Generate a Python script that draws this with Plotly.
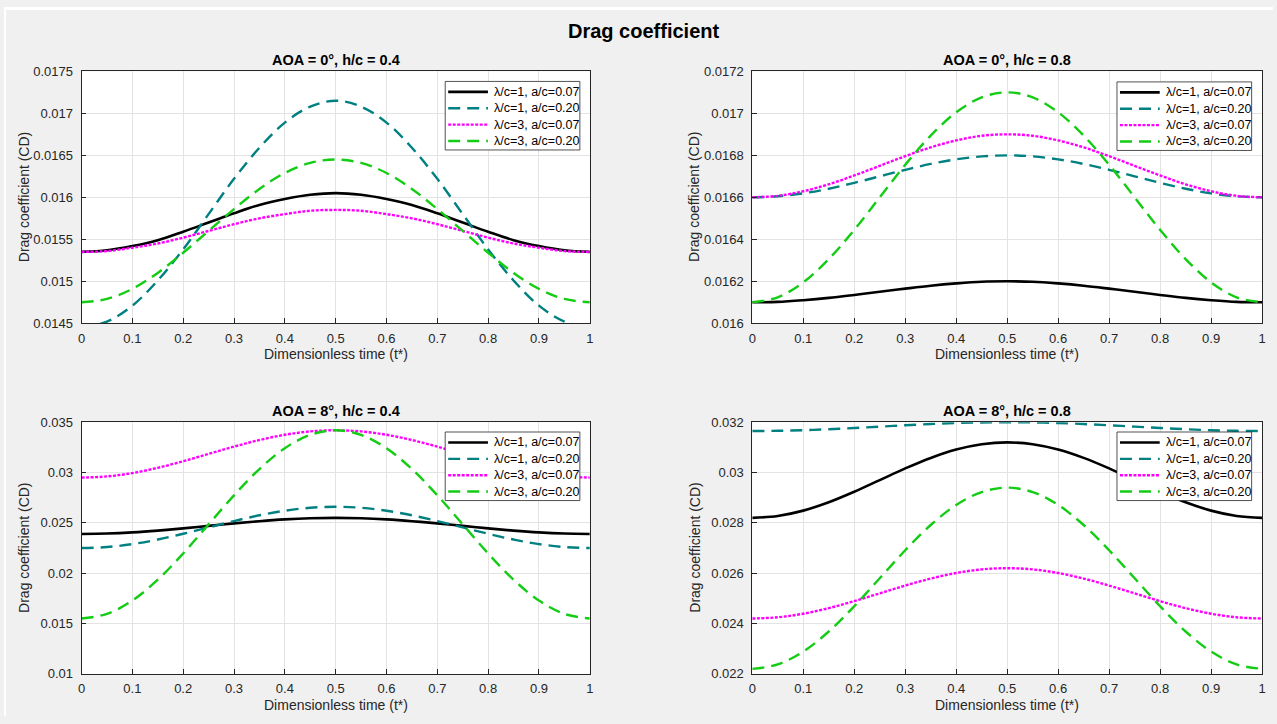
import plotly.graph_objects as go

# Dimensionless time samples
t = [0, 0.05, 0.1, 0.15, 0.2, 0.25, 0.3, 0.35, 0.4, 0.45, 0.5,
     0.55, 0.6, 0.65, 0.7, 0.75, 0.8, 0.85, 0.9, 0.95, 1.0]

# AOA = 0 deg, h/c = 0.4
cd_a0_h04_l1_a07 = [0.01535, 0.01537, 0.01542, 0.01549, 0.01559, 0.01570, 0.01581, 0.01591, 0.01598, 0.01603, 0.01605,
                    0.01603, 0.01598, 0.01591, 0.01581, 0.01570, 0.01559, 0.01549, 0.01542, 0.01537, 0.01535]
cd_a0_h04_l1_a20 = [0.01445, 0.01452, 0.01471, 0.01501, 0.01538, 0.01580, 0.01622, 0.01659, 0.01689, 0.01708, 0.01715,
                    0.01708, 0.01689, 0.01659, 0.01622, 0.01580, 0.01538, 0.01501, 0.01471, 0.01452, 0.01445]
cd_a0_h04_l3_a07 = [0.01535, 0.01536, 0.01540, 0.01545, 0.01552, 0.01560, 0.01568, 0.01575, 0.01580, 0.01584, 0.01585,
                    0.01584, 0.01580, 0.01575, 0.01568, 0.01560, 0.01552, 0.01545, 0.01540, 0.01536, 0.01535]
cd_a0_h04_l3_a20 = [0.01475, 0.01479, 0.01491, 0.01510, 0.01534, 0.01560, 0.01586, 0.01610, 0.01629, 0.01641, 0.01645,
                    0.01641, 0.01629, 0.01610, 0.01586, 0.01560, 0.01534, 0.01510, 0.01491, 0.01479, 0.01475]

# AOA = 0 deg, h/c = 0.8
cd_a0_h08_l1_a07 = [0.016100, 0.016102, 0.016110, 0.016121, 0.016135, 0.016150, 0.016165, 0.016179, 0.016190, 0.016198, 0.016200,
                    0.016198, 0.016190, 0.016179, 0.016165, 0.016150, 0.016135, 0.016121, 0.016110, 0.016102, 0.016100]
cd_a0_h08_l1_a20 = [0.016600, 0.016605, 0.016619, 0.016641, 0.016669, 0.016700, 0.016731, 0.016759, 0.016781, 0.016795, 0.016800,
                    0.016795, 0.016781, 0.016759, 0.016731, 0.016700, 0.016669, 0.016641, 0.016619, 0.016605, 0.016600]
cd_a0_h08_l3_a07 = [0.016600, 0.016607, 0.016629, 0.016662, 0.016704, 0.016750, 0.016796, 0.016838, 0.016871, 0.016893, 0.016900,
                    0.016893, 0.016871, 0.016838, 0.016796, 0.016750, 0.016704, 0.016662, 0.016629, 0.016607, 0.016600]
cd_a0_h08_l3_a20 = [0.016100, 0.016124, 0.016195, 0.016306, 0.016445, 0.016600, 0.016755, 0.016894, 0.017005, 0.017076, 0.017100,
                    0.017076, 0.017005, 0.016894, 0.016755, 0.016600, 0.016445, 0.016306, 0.016195, 0.016124, 0.016100]

# AOA = 8 deg, h/c = 0.4
cd_a8_h04_l1_a07 = [0.023900, 0.023939, 0.024053, 0.024230, 0.024453, 0.024700, 0.024947, 0.025170, 0.025347, 0.025461, 0.025500,
                    0.025461, 0.025347, 0.025170, 0.024947, 0.024700, 0.024453, 0.024230, 0.024053, 0.023939, 0.023900]
cd_a8_h04_l1_a20 = [0.022500, 0.022600, 0.022892, 0.023345, 0.023917, 0.024550, 0.025183, 0.025755, 0.026208, 0.026500, 0.026600,
                    0.026500, 0.026208, 0.025755, 0.025183, 0.024550, 0.023917, 0.023345, 0.022892, 0.022600, 0.022500]
cd_a8_h04_l3_a07 = [0.029500, 0.029615, 0.029949, 0.030469, 0.031124, 0.031850, 0.032576, 0.033231, 0.033751, 0.034085, 0.034200,
                    0.034085, 0.033751, 0.033231, 0.032576, 0.031850, 0.031124, 0.030469, 0.029949, 0.029615, 0.029500]
cd_a8_h04_l3_a20 = [0.015500, 0.015958, 0.017286, 0.019354, 0.021961, 0.024850, 0.027739, 0.030346, 0.032414, 0.033742, 0.034200,
                    0.033742, 0.032414, 0.030346, 0.027739, 0.024850, 0.021961, 0.019354, 0.017286, 0.015958, 0.015500]

# AOA = 8 deg, h/c = 0.8
cd_a8_h08_l1_a07 = [0.028200, 0.028274, 0.028487, 0.028818, 0.029237, 0.029700, 0.030164, 0.030582, 0.030914, 0.031127, 0.031200,
                    0.031127, 0.030914, 0.030582, 0.030164, 0.029700, 0.029237, 0.028818, 0.028487, 0.028274, 0.028200]
cd_a8_h08_l1_a20 = [0.031650, 0.031659, 0.031683, 0.031722, 0.031771, 0.031825, 0.031879, 0.031928, 0.031967, 0.031991, 0.032000,
                    0.031991, 0.031967, 0.031928, 0.031879, 0.031825, 0.031771, 0.031722, 0.031683, 0.031659, 0.031650]
cd_a8_h08_l3_a07 = [0.024200, 0.024249, 0.024391, 0.024612, 0.024891, 0.025200, 0.025509, 0.025788, 0.026009, 0.026151, 0.026200,
                    0.026151, 0.026009, 0.025788, 0.025509, 0.025200, 0.024891, 0.024612, 0.024391, 0.024249, 0.024200]
cd_a8_h08_l3_a20 = [0.022200, 0.022376, 0.022888, 0.023684, 0.024688, 0.025800, 0.026912, 0.027916, 0.028712, 0.029224, 0.029400,
                    0.029224, 0.028712, 0.027916, 0.026912, 0.025800, 0.024688, 0.023684, 0.022888, 0.022376, 0.022200]

series_names = ["λ/c=1, a/c=0.07", "λ/c=1, a/c=0.20", "λ/c=3, a/c=0.07", "λ/c=3, a/c=0.20"]
panel_titles = ["AOA = 0°, h/c = 0.4", "AOA = 0°, h/c = 0.8", "AOA = 8°, h/c = 0.4", "AOA = 8°, h/c = 0.8"]

x_ticks = [0, 0.1, 0.2, 0.3, 0.4, 0.5, 0.6, 0.7, 0.8, 0.9, 1]
x_tick_text = ["0", "0.1", "0.2", "0.3", "0.4", "0.5", "0.6", "0.7", "0.8", "0.9", "1"]

y_ticks_tl = [0.0145, 0.015, 0.0155, 0.016, 0.0165, 0.017, 0.0175]
y_text_tl = ["0.0145", "0.015", "0.0155", "0.016", "0.0165", "0.017", "0.0175"]
y_ticks_tr = [0.016, 0.0162, 0.0164, 0.0166, 0.0168, 0.017, 0.0172]
y_text_tr = ["0.016", "0.0162", "0.0164", "0.0166", "0.0168", "0.017", "0.0172"]
y_ticks_bl = [0.01, 0.015, 0.02, 0.025, 0.03, 0.035]
y_text_bl = ["0.01", "0.015", "0.02", "0.025", "0.03", "0.035"]
y_ticks_br = [0.022, 0.024, 0.026, 0.028, 0.03, 0.032]
y_text_br = ["0.022", "0.024", "0.026", "0.028", "0.03", "0.032"]

panels = [
    [cd_a0_h04_l1_a07, cd_a0_h04_l1_a20, cd_a0_h04_l3_a07, cd_a0_h04_l3_a20],
    [cd_a0_h08_l1_a07, cd_a0_h08_l1_a20, cd_a0_h08_l3_a07, cd_a0_h08_l3_a20],
    [cd_a8_h04_l1_a07, cd_a8_h04_l1_a20, cd_a8_h04_l3_a07, cd_a8_h04_l3_a20],
    [cd_a8_h08_l1_a07, cd_a8_h08_l1_a20, cd_a8_h08_l3_a07, cd_a8_h08_l3_a20],
]
y_ticks = [(y_ticks_tl, y_text_tl), (y_ticks_tr, y_text_tr), (y_ticks_bl, y_text_bl), (y_ticks_br, y_text_br)]

W, H = 1277, 724
FONT = "Liberation Sans, Arial, Helvetica, sans-serif"
AX = "#262626"

styles = [
    dict(color="#000000", dash="solid", width=2.6),
    dict(color="#008080", dash="12px,7px", width=2.4),
    dict(color="#ff00ff", dash="3px,1.5px", width=2.4),
    dict(color="#14cc14", dash="12px,7px", width=2.4),
]

# pixel boxes of each axes: (left, right, top, bottom)
boxes = [(78, 589.5, 65.7, 323), (753, 1266, 65.7, 323), (78, 589.5, 424, 681), (753, 1266, 424, 681)]
# top-left corner of each legend box, in pixels
legend_pos = [(444, 76), (1120, 76.5), (444, 434), (1120, 434)]
LEG_W, LEG_H = 135.5, 70
LEG_ROW0, LEG_ROW = 10.7, 16.7


def px(x):
    return x / W


def py(y):
    return 1 - y / H


fig = go.Figure()
layout = dict(
    width=W, height=H,
    margin=dict(l=0, r=0, t=0, b=0),
    paper_bgcolor="#f0f0f0",
    plot_bgcolor="#ffffff",
    font=dict(family=FONT, color=AX, size=13),
    showlegend=False,
)
annotations = []
shapes = [
    # thin white border along the top and left edges of the window
    dict(type="rect", xref="paper", yref="paper", x0=0, x1=1, y0=py(3), y1=1,
         fillcolor="#ffffff", line=dict(width=0), layer="below"),
    dict(type="rect", xref="paper", yref="paper", x0=0, x1=px(2), y0=0, y1=1,
         fillcolor="#ffffff", line=dict(width=0), layer="below"),
]

for i, (vals, (yt, ytt)) in enumerate(zip(panels, y_ticks)):
    k = "" if i == 0 else str(i + 1)
    for name, v, st in zip(series_names, vals, styles):
        fig.add_trace(go.Scatter(
            x=t, y=v, mode="lines", name=name,
            line=dict(color=st["color"], dash=st["dash"], width=st["width"], shape="spline", smoothing=1.0),
            xaxis="x" + k, yaxis="y" + k,
        ))
    l, r, tp, bt = boxes[i]
    common = dict(
        showline=True, mirror=True, linecolor=AX, linewidth=0.8,
        ticks="inside", ticklen=5, tickcolor=AX, tickwidth=0.8,
        showgrid=True, gridcolor="#e3e3e3", gridwidth=1, zeroline=False,
        tickfont=dict(family=FONT, size=13, color=AX),
    )
    layout["xaxis" + k] = dict(
        domain=[px(l), px(r)], anchor="y" + k, range=[0, 1],
        tickmode="array", tickvals=x_ticks, ticktext=x_tick_text,
        ticklabelstandoff=3, **common,
    )
    layout["yaxis" + k] = dict(
        domain=[py(bt), py(tp)], anchor="x" + k, range=[yt[0], yt[-1]],
        tickmode="array", tickvals=yt, ticktext=ytt,
        ticklabelstandoff=5, **common,
    )

    # legend box with line samples and labels
    lx, ly = legend_pos[i]
    shapes.append(dict(type="rect", xref="paper", yref="paper",
                       x0=px(lx), x1=px(lx + LEG_W), y0=py(ly + LEG_H), y1=py(ly),
                       fillcolor="#ffffff", line=dict(color=AX, width=0.8), layer="above"))
    for j, (name, st) in enumerate(zip(series_names, styles)):
        yy = ly + LEG_ROW0 + j * LEG_ROW
        shapes.append(dict(type="line", xref="paper", yref="paper",
                           x0=px(lx + 3), x1=px(lx + 43), y0=py(yy), y1=py(yy),
                           line=dict(color=st["color"], dash=st["dash"], width=st["width"]),
                           layer="above"))
        annotations.append(dict(
            text=name, x=px(lx + 47), y=py(yy), xref="paper", yref="paper",
            showarrow=False, xanchor="left", yanchor="middle",
            font=dict(family=FONT, size=12.5, color="#000000"),
        ))

    cx = (l + r) / 2
    annotations.append(dict(
        text="<b>" + panel_titles[i] + "</b>", x=px(cx), y=py(tp - 11.5),
        xref="paper", yref="paper", showarrow=False, xanchor="center", yanchor="middle",
        font=dict(family=FONT, size=14.5, color="#000000"),
    ))
    annotations.append(dict(
        text="Dimensionless time (t*)", x=px(cx), y=py(bt + 31.5),
        xref="paper", yref="paper", showarrow=False, xanchor="center", yanchor="middle",
        font=dict(family=FONT, size=14, color=AX),
    ))
    annotations.append(dict(
        text="Drag coefficient (CD)", x=px(l - 58), y=py((tp + bt) / 2),
        xref="paper", yref="paper", showarrow=False, xanchor="center", yanchor="middle",
        textangle=-90, font=dict(family=FONT, size=14, color=AX),
    ))

annotations.append(dict(
    text="<b>Drag coefficient</b>", x=px(644), y=py(24),
    xref="paper", yref="paper", showarrow=False, xanchor="center", yanchor="middle",
    font=dict(family=FONT, size=20, color="#000000"),
))
layout["annotations"] = annotations
layout["shapes"] = shapes
fig.update_layout(**layout)

fig.write_html("out.html")
